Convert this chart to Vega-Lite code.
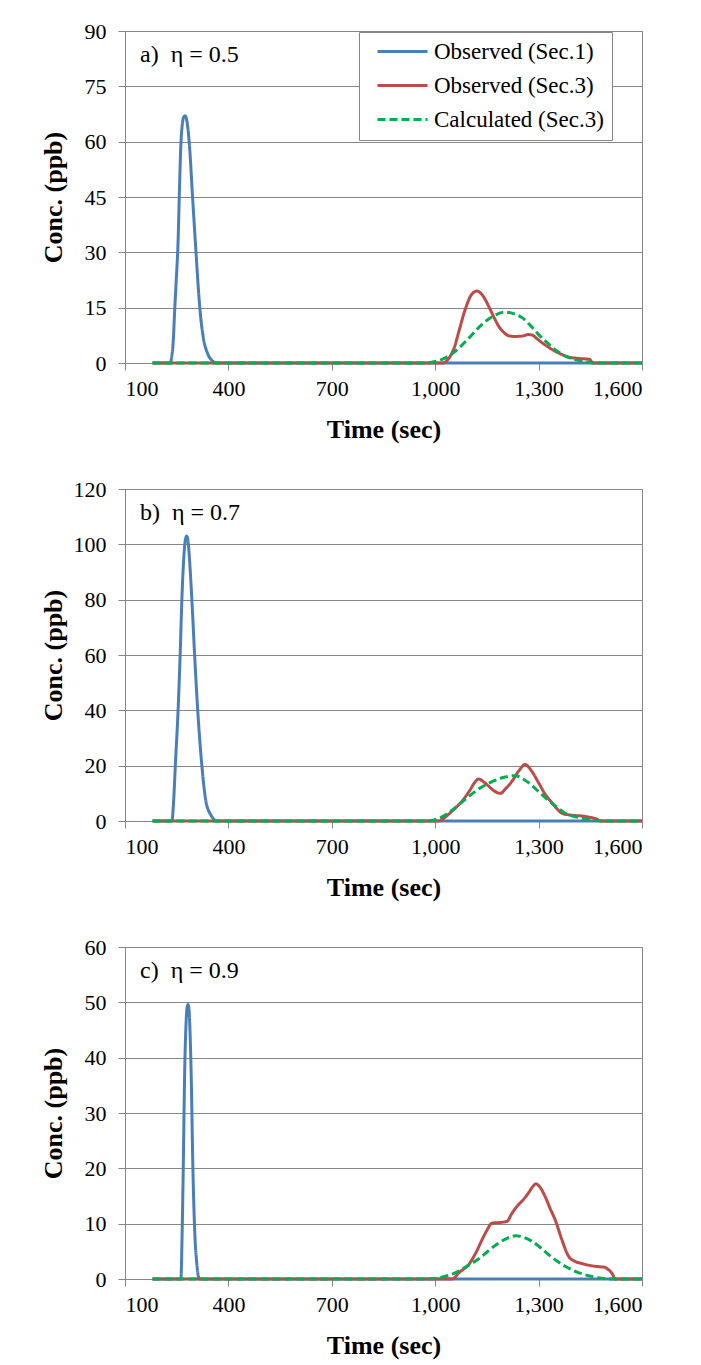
{
  "$schema": "https://vega.github.io/schema/vega-lite/v6.json",
  "padding": {"left": 39, "top": 19, "right": 5, "bottom": 5},
  "background": "white",
  "spacing": 126,
  "bounds": "flush",
  "config": {
    "font": "Liberation Serif",
    "view": {"stroke": "#868686", "strokeWidth": 1},
    "axis": {
      "labelFont": "Liberation Serif", "labelFontSize": 22, "labelColor": "black",
      "titleFont": "Liberation Serif", "titleFontSize": 26, "titleFontWeight": "bold", "titleColor": "black",
      "domainColor": "#868686", "tickColor": "#868686", "gridColor": "#868686", "gridOpacity": 1,
      "tickSize": 7
    },
    "title": {"anchor": "start", "frame": "group", "offset": 0, "dx": 15, "dy": 51, "baseline": "alphabetic", "fontSize": 24, "fontWeight": "normal", "font": "Liberation Serif", "color": "black"},
    "legend": {
      "orient": "none", "legendX": 234, "legendY": 1,
      "strokeColor": "#868686", "fillColor": "white", "padding": 8,
      "symbolType": "M-1,0H4", "symbolSize": 400, "symbolStrokeWidth": 3, "symbolOffset": 9,
      "labelFont": "Liberation Serif", "labelFontSize": 23, "labelOffset": 35, "labelColor": "black", "labelLimit": 400,
      "rowPadding": 10
    }
  },
  "data": {"values": [
    {"panel":"a","series":"Observed (Sec.1)","time":180,"conc":0},
    {"panel":"a","series":"Observed (Sec.1)","time":231,"conc":0},
    {"panel":"a","series":"Observed (Sec.1)","time":236,"conc":2},
    {"panel":"a","series":"Observed (Sec.1)","time":240,"conc":6},
    {"panel":"a","series":"Observed (Sec.1)","time":244,"conc":14},
    {"panel":"a","series":"Observed (Sec.1)","time":249,"conc":23},
    {"panel":"a","series":"Observed (Sec.1)","time":254,"conc":33},
    {"panel":"a","series":"Observed (Sec.1)","time":258,"conc":47},
    {"panel":"a","series":"Observed (Sec.1)","time":262,"conc":59},
    {"panel":"a","series":"Observed (Sec.1)","time":266,"conc":64.5},
    {"panel":"a","series":"Observed (Sec.1)","time":270,"conc":66.6},
    {"panel":"a","series":"Observed (Sec.1)","time":274,"conc":67},
    {"panel":"a","series":"Observed (Sec.1)","time":278,"conc":66.3},
    {"panel":"a","series":"Observed (Sec.1)","time":282,"conc":64},
    {"panel":"a","series":"Observed (Sec.1)","time":287,"conc":59},
    {"panel":"a","series":"Observed (Sec.1)","time":296,"conc":45},
    {"panel":"a","series":"Observed (Sec.1)","time":306,"conc":30},
    {"panel":"a","series":"Observed (Sec.1)","time":317,"conc":15},
    {"panel":"a","series":"Observed (Sec.1)","time":327,"conc":7},
    {"panel":"a","series":"Observed (Sec.1)","time":340,"conc":2.5},
    {"panel":"a","series":"Observed (Sec.1)","time":355,"conc":0.5},
    {"panel":"a","series":"Observed (Sec.1)","time":367,"conc":0},
    {"panel":"a","series":"Observed (Sec.1)","time":1600,"conc":0},

    {"panel":"a","series":"Observed (Sec.3)","time":180,"conc":0},
    {"panel":"a","series":"Observed (Sec.3)","time":1020,"conc":0},
    {"panel":"a","series":"Observed (Sec.3)","time":1053,"conc":3.6},
    {"panel":"a","series":"Observed (Sec.3)","time":1070,"conc":9},
    {"panel":"a","series":"Observed (Sec.3)","time":1087,"conc":14.5},
    {"panel":"a","series":"Observed (Sec.3)","time":1105,"conc":18.5},
    {"panel":"a","series":"Observed (Sec.3)","time":1121,"conc":19.5},
    {"panel":"a","series":"Observed (Sec.3)","time":1140,"conc":18},
    {"panel":"a","series":"Observed (Sec.3)","time":1155,"conc":15.4},
    {"panel":"a","series":"Observed (Sec.3)","time":1170,"conc":12.5},
    {"panel":"a","series":"Observed (Sec.3)","time":1184,"conc":10},
    {"panel":"a","series":"Observed (Sec.3)","time":1200,"conc":8.2},
    {"panel":"a","series":"Observed (Sec.3)","time":1213,"conc":7.4},
    {"panel":"a","series":"Observed (Sec.3)","time":1230,"conc":7.2},
    {"panel":"a","series":"Observed (Sec.3)","time":1252,"conc":7.3},
    {"panel":"a","series":"Observed (Sec.3)","time":1270,"conc":7.7},
    {"panel":"a","series":"Observed (Sec.3)","time":1281,"conc":7.6},
    {"panel":"a","series":"Observed (Sec.3)","time":1295,"conc":6.6},
    {"panel":"a","series":"Observed (Sec.3)","time":1310,"conc":5.5},
    {"panel":"a","series":"Observed (Sec.3)","time":1330,"conc":4.2},
    {"panel":"a","series":"Observed (Sec.3)","time":1348,"conc":3.2},
    {"panel":"a","series":"Observed (Sec.3)","time":1370,"conc":2.2},
    {"panel":"a","series":"Observed (Sec.3)","time":1387,"conc":1.6},
    {"panel":"a","series":"Observed (Sec.3)","time":1410,"conc":1.3},
    {"panel":"a","series":"Observed (Sec.3)","time":1435,"conc":1.1},
    {"panel":"a","series":"Observed (Sec.3)","time":1448,"conc":1.0},
    {"panel":"a","series":"Observed (Sec.3)","time":1457,"conc":0},
    {"panel":"a","series":"Observed (Sec.3)","time":1600,"conc":0},

    {"panel":"a","series":"Calculated (Sec.3)","time":180,"conc":0},
    {"panel":"a","series":"Calculated (Sec.3)","time":960,"conc":0},
    {"panel":"a","series":"Calculated (Sec.3)","time":990,"conc":0.2},
    {"panel":"a","series":"Calculated (Sec.3)","time":1020,"conc":1},
    {"panel":"a","series":"Calculated (Sec.3)","time":1053,"conc":2.8},
    {"panel":"a","series":"Calculated (Sec.3)","time":1090,"conc":6},
    {"panel":"a","series":"Calculated (Sec.3)","time":1136,"conc":10.5},
    {"panel":"a","series":"Calculated (Sec.3)","time":1170,"conc":12.8},
    {"panel":"a","series":"Calculated (Sec.3)","time":1203,"conc":13.8},
    {"panel":"a","series":"Calculated (Sec.3)","time":1230,"conc":13.3},
    {"panel":"a","series":"Calculated (Sec.3)","time":1252,"conc":12.3},
    {"panel":"a","series":"Calculated (Sec.3)","time":1280,"conc":9.8},
    {"panel":"a","series":"Calculated (Sec.3)","time":1300,"conc":7.7},
    {"panel":"a","series":"Calculated (Sec.3)","time":1325,"conc":5.5},
    {"panel":"a","series":"Calculated (Sec.3)","time":1348,"conc":3.6},
    {"panel":"a","series":"Calculated (Sec.3)","time":1380,"conc":1.8},
    {"panel":"a","series":"Calculated (Sec.3)","time":1406,"conc":0.9},
    {"panel":"a","series":"Calculated (Sec.3)","time":1440,"conc":0.3},
    {"panel":"a","series":"Calculated (Sec.3)","time":1464,"conc":0},
    {"panel":"a","series":"Calculated (Sec.3)","time":1600,"conc":0},

    {"panel":"b","series":"Observed (Sec.1)","time":180,"conc":0},
    {"panel":"b","series":"Observed (Sec.1)","time":236,"conc":0},
    {"panel":"b","series":"Observed (Sec.1)","time":241,"conc":7},
    {"panel":"b","series":"Observed (Sec.1)","time":246,"conc":20},
    {"panel":"b","series":"Observed (Sec.1)","time":254,"conc":40},
    {"panel":"b","series":"Observed (Sec.1)","time":260,"conc":60},
    {"panel":"b","series":"Observed (Sec.1)","time":265,"conc":80},
    {"panel":"b","series":"Observed (Sec.1)","time":271,"conc":96},
    {"panel":"b","series":"Observed (Sec.1)","time":275,"conc":101.5},
    {"panel":"b","series":"Observed (Sec.1)","time":279,"conc":103},
    {"panel":"b","series":"Observed (Sec.1)","time":283,"conc":101},
    {"panel":"b","series":"Observed (Sec.1)","time":288,"conc":93},
    {"panel":"b","series":"Observed (Sec.1)","time":294,"conc":80},
    {"panel":"b","series":"Observed (Sec.1)","time":302,"conc":60},
    {"panel":"b","series":"Observed (Sec.1)","time":311,"conc":40},
    {"panel":"b","series":"Observed (Sec.1)","time":323,"conc":20},
    {"panel":"b","series":"Observed (Sec.1)","time":335,"conc":7},
    {"panel":"b","series":"Observed (Sec.1)","time":350,"conc":2},
    {"panel":"b","series":"Observed (Sec.1)","time":367,"conc":0},
    {"panel":"b","series":"Observed (Sec.1)","time":1600,"conc":0},

    {"panel":"b","series":"Observed (Sec.3)","time":180,"conc":0},
    {"panel":"b","series":"Observed (Sec.3)","time":1010,"conc":0},
    {"panel":"b","series":"Observed (Sec.3)","time":1030,"conc":1.5},
    {"panel":"b","series":"Observed (Sec.3)","time":1049,"conc":3.6},
    {"panel":"b","series":"Observed (Sec.3)","time":1078,"conc":7.2},
    {"panel":"b","series":"Observed (Sec.3)","time":1100,"conc":11},
    {"panel":"b","series":"Observed (Sec.3)","time":1115,"conc":14},
    {"panel":"b","series":"Observed (Sec.3)","time":1126,"conc":15.2},
    {"panel":"b","series":"Observed (Sec.3)","time":1140,"conc":14.2},
    {"panel":"b","series":"Observed (Sec.3)","time":1155,"conc":12.6},
    {"panel":"b","series":"Observed (Sec.3)","time":1172,"conc":10.8},
    {"panel":"b","series":"Observed (Sec.3)","time":1189,"conc":10},
    {"panel":"b","series":"Observed (Sec.3)","time":1205,"conc":11.8},
    {"panel":"b","series":"Observed (Sec.3)","time":1223,"conc":14.4},
    {"panel":"b","series":"Observed (Sec.3)","time":1242,"conc":18},
    {"panel":"b","series":"Observed (Sec.3)","time":1261,"conc":20.4},
    {"panel":"b","series":"Observed (Sec.3)","time":1280,"conc":18},
    {"panel":"b","series":"Observed (Sec.3)","time":1300,"conc":13.8},
    {"panel":"b","series":"Observed (Sec.3)","time":1320,"conc":9.5},
    {"panel":"b","series":"Observed (Sec.3)","time":1339,"conc":6.6},
    {"panel":"b","series":"Observed (Sec.3)","time":1355,"conc":4.2},
    {"panel":"b","series":"Observed (Sec.3)","time":1368,"conc":2.8},
    {"panel":"b","series":"Observed (Sec.3)","time":1395,"conc":2.1},
    {"panel":"b","series":"Observed (Sec.3)","time":1426,"conc":1.8},
    {"panel":"b","series":"Observed (Sec.3)","time":1450,"conc":1.3},
    {"panel":"b","series":"Observed (Sec.3)","time":1464,"conc":0.9},
    {"panel":"b","series":"Observed (Sec.3)","time":1484,"conc":0},
    {"panel":"b","series":"Observed (Sec.3)","time":1600,"conc":0},

    {"panel":"b","series":"Calculated (Sec.3)","time":180,"conc":0},
    {"panel":"b","series":"Calculated (Sec.3)","time":970,"conc":0},
    {"panel":"b","series":"Calculated (Sec.3)","time":990,"conc":0.2},
    {"panel":"b","series":"Calculated (Sec.3)","time":1020,"conc":1.5},
    {"panel":"b","series":"Calculated (Sec.3)","time":1050,"conc":4},
    {"panel":"b","series":"Calculated (Sec.3)","time":1087,"conc":7.8},
    {"panel":"b","series":"Calculated (Sec.3)","time":1125,"conc":11.5},
    {"panel":"b","series":"Calculated (Sec.3)","time":1165,"conc":14.2},
    {"panel":"b","series":"Calculated (Sec.3)","time":1200,"conc":15.8},
    {"panel":"b","series":"Calculated (Sec.3)","time":1232,"conc":16.4},
    {"panel":"b","series":"Calculated (Sec.3)","time":1255,"conc":15.2},
    {"panel":"b","series":"Calculated (Sec.3)","time":1281,"conc":12.8},
    {"panel":"b","series":"Calculated (Sec.3)","time":1305,"conc":10},
    {"panel":"b","series":"Calculated (Sec.3)","time":1329,"conc":7.4},
    {"panel":"b","series":"Calculated (Sec.3)","time":1355,"conc":4.8},
    {"panel":"b","series":"Calculated (Sec.3)","time":1377,"conc":2.8},
    {"panel":"b","series":"Calculated (Sec.3)","time":1405,"conc":1.6},
    {"panel":"b","series":"Calculated (Sec.3)","time":1435,"conc":0.8},
    {"panel":"b","series":"Calculated (Sec.3)","time":1460,"conc":0.3},
    {"panel":"b","series":"Calculated (Sec.3)","time":1484,"conc":0},
    {"panel":"b","series":"Calculated (Sec.3)","time":1600,"conc":0},

    {"panel":"c","series":"Observed (Sec.1)","time":180,"conc":0},
    {"panel":"c","series":"Observed (Sec.1)","time":262,"conc":0},
    {"panel":"c","series":"Observed (Sec.1)","time":266,"conc":9},
    {"panel":"c","series":"Observed (Sec.1)","time":269,"conc":20},
    {"panel":"c","series":"Observed (Sec.1)","time":273,"conc":37},
    {"panel":"c","series":"Observed (Sec.1)","time":277,"conc":46},
    {"panel":"c","series":"Observed (Sec.1)","time":280,"conc":49},
    {"panel":"c","series":"Observed (Sec.1)","time":283,"conc":49.6},
    {"panel":"c","series":"Observed (Sec.1)","time":286,"conc":48.5},
    {"panel":"c","series":"Observed (Sec.1)","time":289,"conc":44},
    {"panel":"c","series":"Observed (Sec.1)","time":292,"conc":37},
    {"panel":"c","series":"Observed (Sec.1)","time":297,"conc":20},
    {"panel":"c","series":"Observed (Sec.1)","time":302,"conc":9},
    {"panel":"c","series":"Observed (Sec.1)","time":308,"conc":3},
    {"panel":"c","series":"Observed (Sec.1)","time":316,"conc":0},
    {"panel":"c","series":"Observed (Sec.1)","time":1600,"conc":0},

    {"panel":"c","series":"Observed (Sec.3)","time":180,"conc":0},
    {"panel":"c","series":"Observed (Sec.3)","time":1049,"conc":0},
    {"panel":"c","series":"Observed (Sec.3)","time":1070,"conc":1.2},
    {"panel":"c","series":"Observed (Sec.3)","time":1097,"conc":2.6},
    {"panel":"c","series":"Observed (Sec.3)","time":1120,"conc":5},
    {"panel":"c","series":"Observed (Sec.3)","time":1136,"conc":7.1},
    {"panel":"c","series":"Observed (Sec.3)","time":1150,"conc":8.8},
    {"panel":"c","series":"Observed (Sec.3)","time":1165,"conc":10.1},
    {"panel":"c","series":"Observed (Sec.3)","time":1185,"conc":10.2},
    {"panel":"c","series":"Observed (Sec.3)","time":1208,"conc":10.4},
    {"panel":"c","series":"Observed (Sec.3)","time":1222,"conc":11.8},
    {"panel":"c","series":"Observed (Sec.3)","time":1237,"conc":13.1},
    {"panel":"c","series":"Observed (Sec.3)","time":1255,"conc":14.3},
    {"panel":"c","series":"Observed (Sec.3)","time":1270,"conc":15.5},
    {"panel":"c","series":"Observed (Sec.3)","time":1282,"conc":16.6},
    {"panel":"c","series":"Observed (Sec.3)","time":1292,"conc":17.2},
    {"panel":"c","series":"Observed (Sec.3)","time":1305,"conc":16.5},
    {"panel":"c","series":"Observed (Sec.3)","time":1319,"conc":14.9},
    {"panel":"c","series":"Observed (Sec.3)","time":1333,"conc":12.8},
    {"panel":"c","series":"Observed (Sec.3)","time":1348,"conc":10.7},
    {"panel":"c","series":"Observed (Sec.3)","time":1367,"conc":7.2},
    {"panel":"c","series":"Observed (Sec.3)","time":1387,"conc":4.1},
    {"panel":"c","series":"Observed (Sec.3)","time":1405,"conc":3.2},
    {"panel":"c","series":"Observed (Sec.3)","time":1426,"conc":2.8},
    {"panel":"c","series":"Observed (Sec.3)","time":1445,"conc":2.5},
    {"panel":"c","series":"Observed (Sec.3)","time":1464,"conc":2.3},
    {"panel":"c","series":"Observed (Sec.3)","time":1480,"conc":2.2},
    {"panel":"c","series":"Observed (Sec.3)","time":1493,"conc":2.1},
    {"panel":"c","series":"Observed (Sec.3)","time":1500,"conc":1.8},
    {"panel":"c","series":"Observed (Sec.3)","time":1508,"conc":1.4},
    {"panel":"c","series":"Observed (Sec.3)","time":1515,"conc":0.8},
    {"panel":"c","series":"Observed (Sec.3)","time":1522,"conc":0},
    {"panel":"c","series":"Observed (Sec.3)","time":1600,"conc":0},

    {"panel":"c","series":"Calculated (Sec.3)","time":180,"conc":0},
    {"panel":"c","series":"Calculated (Sec.3)","time":970,"conc":0},
    {"panel":"c","series":"Calculated (Sec.3)","time":1000,"conc":0.1},
    {"panel":"c","series":"Calculated (Sec.3)","time":1030,"conc":0.5},
    {"panel":"c","series":"Calculated (Sec.3)","time":1058,"conc":1.1},
    {"panel":"c","series":"Calculated (Sec.3)","time":1100,"conc":2.6},
    {"panel":"c","series":"Calculated (Sec.3)","time":1136,"conc":4.1},
    {"panel":"c","series":"Calculated (Sec.3)","time":1160,"conc":5.4},
    {"panel":"c","series":"Calculated (Sec.3)","time":1184,"conc":6.5},
    {"panel":"c","series":"Calculated (Sec.3)","time":1210,"conc":7.4},
    {"panel":"c","series":"Calculated (Sec.3)","time":1235,"conc":7.8},
    {"panel":"c","series":"Calculated (Sec.3)","time":1258,"conc":7.5},
    {"panel":"c","series":"Calculated (Sec.3)","time":1281,"conc":6.8},
    {"panel":"c","series":"Calculated (Sec.3)","time":1305,"conc":5.7},
    {"panel":"c","series":"Calculated (Sec.3)","time":1329,"conc":4.4},
    {"panel":"c","series":"Calculated (Sec.3)","time":1352,"conc":3.3},
    {"panel":"c","series":"Calculated (Sec.3)","time":1377,"conc":2.3},
    {"panel":"c","series":"Calculated (Sec.3)","time":1410,"conc":1.3},
    {"panel":"c","series":"Calculated (Sec.3)","time":1445,"conc":0.6},
    {"panel":"c","series":"Calculated (Sec.3)","time":1475,"conc":0.2},
    {"panel":"c","series":"Calculated (Sec.3)","time":1503,"conc":0},
    {"panel":"c","series":"Calculated (Sec.3)","time":1600,"conc":0}
  ]},
  "vconcat": [
    {
      "title": "a)\u00a0 η = 0.5",
      "width": 517, "height": 332,
      "transform": [{"filter": "datum.panel === 'a'"}],
      "encoding": {
        "x": {"field": "time", "type": "quantitative", "scale": {"domain": [100, 1600], "nice": false},
              "axis": {"values": [100, 400, 700, 1000, 1300, 1600], "format": ",d", "grid": false, "labelPadding": 8, "title": "Time (sec)", "titleY": 66, "titleBaseline": "middle"}},
        "y": {"field": "conc", "type": "quantitative", "scale": {"domain": [0, 90], "nice": false},
              "axis": {"values": [0, 15, 30, 45, 60, 75, 90], "labelPadding": 12, "title": "Conc. (ppb)", "titleX": -72, "titleY": 166, "titleBaseline": "middle", "titleAlign": "center"}},
        "color": {"field": "series", "type": "nominal", "scale": {"domain": ["Observed (Sec.1)", "Observed (Sec.3)", "Calculated (Sec.3)"], "range": ["#4a7ebb", "#be4b48", "#00b050"]}, "legend": {"title": null}},
        "strokeDash": {"field": "series", "type": "nominal", "scale": {"domain": ["Observed (Sec.1)", "Observed (Sec.3)", "Calculated (Sec.3)"], "range": [[1, 0], [1, 0], [8, 4]]}, "legend": {"title": null}}
      },
      "layer": [
        {"transform": [{"filter": "datum.series === 'Observed (Sec.1)'"}], "mark": {"type": "line", "strokeWidth": 3, "interpolate": "monotone"}},
        {"transform": [{"filter": "datum.series === 'Observed (Sec.3)'"}], "mark": {"type": "line", "strokeWidth": 3, "interpolate": "monotone"}},
        {"transform": [{"filter": "datum.series === 'Calculated (Sec.3)'"}], "mark": {"type": "line", "strokeWidth": 3, "interpolate": "monotone"}}
      ]
    },
    {
      "title": "b)\u00a0 η = 0.7",
      "width": 517, "height": 332,
      "transform": [{"filter": "datum.panel === 'b'"}],
      "encoding": {
        "x": {"field": "time", "type": "quantitative", "scale": {"domain": [100, 1600], "nice": false},
              "axis": {"values": [100, 400, 700, 1000, 1300, 1600], "format": ",d", "grid": false, "labelPadding": 8, "title": "Time (sec)", "titleY": 66, "titleBaseline": "middle"}},
        "y": {"field": "conc", "type": "quantitative", "scale": {"domain": [0, 120], "nice": false},
              "axis": {"values": [0, 20, 40, 60, 80, 100, 120], "labelPadding": 12, "title": "Conc. (ppb)", "titleX": -72, "titleY": 166, "titleBaseline": "middle", "titleAlign": "center"}},
        "color": {"field": "series", "type": "nominal", "scale": {"domain": ["Observed (Sec.1)", "Observed (Sec.3)", "Calculated (Sec.3)"], "range": ["#4a7ebb", "#be4b48", "#00b050"]}, "legend": {"title": null}},
        "strokeDash": {"field": "series", "type": "nominal", "scale": {"domain": ["Observed (Sec.1)", "Observed (Sec.3)", "Calculated (Sec.3)"], "range": [[1, 0], [1, 0], [8, 4]]}, "legend": {"title": null}}
      },
      "layer": [
        {"transform": [{"filter": "datum.series === 'Observed (Sec.1)'"}], "mark": {"type": "line", "strokeWidth": 3, "interpolate": "monotone"}},
        {"transform": [{"filter": "datum.series === 'Observed (Sec.3)'"}], "mark": {"type": "line", "strokeWidth": 3, "interpolate": "monotone"}},
        {"transform": [{"filter": "datum.series === 'Calculated (Sec.3)'"}], "mark": {"type": "line", "strokeWidth": 3, "interpolate": "monotone"}}
      ]
    },
    {
      "title": "c)\u00a0 η = 0.9",
      "width": 517, "height": 332,
      "transform": [{"filter": "datum.panel === 'c'"}],
      "encoding": {
        "x": {"field": "time", "type": "quantitative", "scale": {"domain": [100, 1600], "nice": false},
              "axis": {"values": [100, 400, 700, 1000, 1300, 1600], "format": ",d", "grid": false, "labelPadding": 8, "title": "Time (sec)", "titleY": 66, "titleBaseline": "middle"}},
        "y": {"field": "conc", "type": "quantitative", "scale": {"domain": [0, 60], "nice": false},
              "axis": {"values": [0, 10, 20, 30, 40, 50, 60], "labelPadding": 12, "title": "Conc. (ppb)", "titleX": -72, "titleY": 166, "titleBaseline": "middle", "titleAlign": "center"}},
        "color": {"field": "series", "type": "nominal", "scale": {"domain": ["Observed (Sec.1)", "Observed (Sec.3)", "Calculated (Sec.3)"], "range": ["#4a7ebb", "#be4b48", "#00b050"]}, "legend": {"title": null}},
        "strokeDash": {"field": "series", "type": "nominal", "scale": {"domain": ["Observed (Sec.1)", "Observed (Sec.3)", "Calculated (Sec.3)"], "range": [[1, 0], [1, 0], [8, 4]]}, "legend": {"title": null}}
      },
      "layer": [
        {"transform": [{"filter": "datum.series === 'Observed (Sec.1)'"}], "mark": {"type": "line", "strokeWidth": 3, "interpolate": "monotone"}},
        {"transform": [{"filter": "datum.series === 'Observed (Sec.3)'"}], "mark": {"type": "line", "strokeWidth": 3, "interpolate": "monotone"}},
        {"transform": [{"filter": "datum.series === 'Calculated (Sec.3)'"}], "mark": {"type": "line", "strokeWidth": 3, "interpolate": "monotone"}}
      ]
    }
  ]
}
